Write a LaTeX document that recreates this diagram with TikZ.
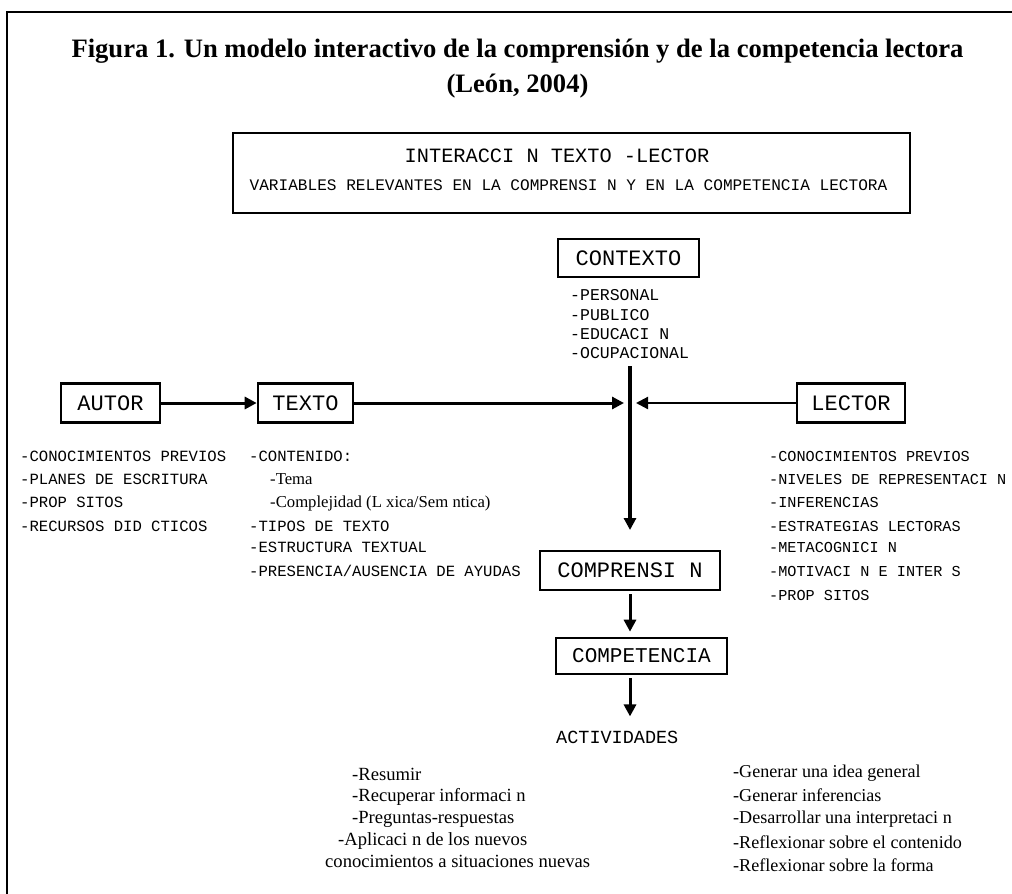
\documentclass[tikz,border=0pt]{standalone}
\usepackage{fontspec}
\setmainfont{Liberation Serif}
\newfontfamily\monof{Liberation Mono}
\usetikzlibrary{arrows.meta}
\begin{document}
\begin{tikzpicture}[x=1pt,y=-1pt,
 box/.style={draw, line width=2.6pt, inner sep=0pt, font=\monof\fontsize{22}{26}\selectfont},
 item/.style={anchor=base west, inner sep=0pt, font=\monof\fontsize{15.6}{19}\selectfont},
 ritem/.style={anchor=base west, inner sep=0pt, font=\monof\fontsize{15.2}{19}\selectfont},
 ctx/.style={anchor=base west, inner sep=0pt, font=\monof\fontsize{16.5}{19}\selectfont},
 act/.style={anchor=base west, inner sep=0pt, font=\fontsize{18.6}{22}\selectfont},
 ract/.style={anchor=base west, inner sep=0pt, font=\fontsize{18.1}{22}\selectfont},
 subitem/.style={anchor=base west, inner sep=0pt, font=\fontsize{16.7}{20}\selectfont},
 conn/.style={line width=3pt},
 vconn/.style={line width=3.6pt},
 thinconn/.style={line width=2.2pt},
 tip/.style={-{Triangle[length=12pt,width=12pt]}},
]
\useasboundingbox (0,0) rectangle (1012,894);
% frame
\draw[line width=1.5pt] (7,894) -- (7,12) -- (1012,12);

% title
\node[anchor=base, inner sep=0pt, font=\bfseries\fontsize{26.6}{30}\selectfont] (t1) at (517.5,57)
  {Figura 1. Un modelo interactivo de la comprensión y de la competencia lectora};
\node[anchor=base, inner sep=0pt, font=\bfseries\fontsize{26.6}{30}\selectfont] (t2) at (517.5,92)
  {(León, 2004)};

% top box
\node[box, minimum width=677pt, minimum height=80pt] (top) at (571.5,173) {};
\node[anchor=base, inner sep=0pt, font=\monof\fontsize{20.3}{24}\selectfont] (top1) at (557,162)
  {INTERACCI N TEXTO -LECTOR};
\node[anchor=base, inner sep=0pt, font=\monof\fontsize{16.1}{19}\selectfont] (top2) at (568.5,190)
  {VARIABLES RELEVANTES EN LA COMPRENSI N Y EN LA COMPETENCIA LECTORA};

% main boxes
\node[box, minimum width=141pt, minimum height=38pt] (ctxbox) at (628.5,258) {CONTEXTO};
\node[box, minimum width=99pt, minimum height=39pt] (autor) at (110.5,403) {AUTOR};
\node[box, minimum width=95pt, minimum height=39pt] (texto) at (305.5,403) {TEXTO};
\node[box, minimum width=108pt, minimum height=39pt] (lector) at (851,403) {LECTOR};
\node[box, minimum width=180pt, minimum height=39pt] (compr) at (630,570.5) {COMPRENSI N};
\node[box, minimum width=171pt, minimum height=36pt, font=\monof\fontsize{21}{25}\selectfont] (compe) at (641.5,656) {COMPETENCIA};
\node[anchor=base west, inner sep=0pt, font=\monof\fontsize{18.5}{22}\selectfont] (activ) at (556,743) {ACTIVIDADES};

% contexto list
\node[ctx] (c1) at (570,300) {-PERSONAL};
\node[ctx] (c2) at (570,320) {-PUBLICO};
\node[ctx] (c3) at (570,339) {-EDUCACI N};
\node[ctx] (c4) at (570,358) {-OCUPACIONAL};

% autor list
\node[item] (a1) at (20,461) {-CONOCIMIENTOS PREVIOS};
\node[item] (a2) at (20,484) {-PLANES DE ESCRITURA};
\node[item] (a3) at (20,507) {-PROP SITOS};
\node[item] (a4) at (20,531) {-RECURSOS DID CTICOS};

% texto list
\node[item] (x1) at (249,461) {-CONTENIDO:};
\node[subitem] (x2) at (270,484) {-Tema};
\node[subitem] (x3) at (270,507) {-Complejidad (L xica/Sem ntica)};
\node[item] (x4) at (249,531) {-TIPOS DE TEXTO};
\node[item] (x5) at (249,552) {-ESTRUCTURA TEXTUAL};
\node[item] (x6) at (249,576) {-PRESENCIA/AUSENCIA DE AYUDAS};

% lector list
\node[ritem] (l1) at (769,461) {-CONOCIMIENTOS PREVIOS};
\node[ritem] (l2) at (769,484) {-NIVELES DE REPRESENTACI N};
\node[ritem] (l3) at (769,507) {-INFERENCIAS};
\node[ritem] (l4) at (769,531) {-ESTRATEGIAS LECTORAS};
\node[ritem] (l5) at (769,552) {-METACOGNICI N};
\node[ritem] (l6) at (769,576) {-MOTIVACI N E INTER S};
\node[ritem] (l7) at (769,600) {-PROP SITOS};

% activities left
\node[act] (p1) at (352,780) {-Resumir};
\node[act] (p2) at (352,801) {-Recuperar informaci n};
\node[act] (p3) at (352,823) {-Preguntas-respuestas};
\node[act] (p4) at (338,845) {-Aplicaci n de los nuevos};
\node[act] (p5) at (325,867) {conocimientos a situaciones nuevas};

% activities right
\node[ract] (q1) at (733,777) {-Generar una idea general};
\node[ract] (q2) at (733,801) {-Generar inferencias};
\node[ract] (q3) at (733,823) {-Desarrollar una interpretaci n};
\node[ract] (q4) at (733,848) {-Reflexionar sobre el contenido};
\node[ract] (q5) at (733,871) {-Reflexionar sobre la forma};

% connector coordinates
\coordinate (vtop) at (630,366);
\coordinate (vend) at (630,530);
\coordinate (jl) at (624,403);
\coordinate (jr) at (636,403);

% connectors
\draw[conn, tip] (autor.east) -- (texto.west);
\draw[conn, tip] (texto.east) -- (jl);
\draw[thinconn, tip] (lector.west) -- (jr);
\draw[vconn, tip] (vtop) -- (vend);
\draw[conn, tip, shorten <=3pt, shorten >=5pt] (compr.south) -- (compr.south |- compe.north);
\draw[conn, tip, shorten <=3pt, shorten >=14pt] (compr.south |- compe.south) -- (compr.south |- activ.north);
\end{tikzpicture}
\end{document}
